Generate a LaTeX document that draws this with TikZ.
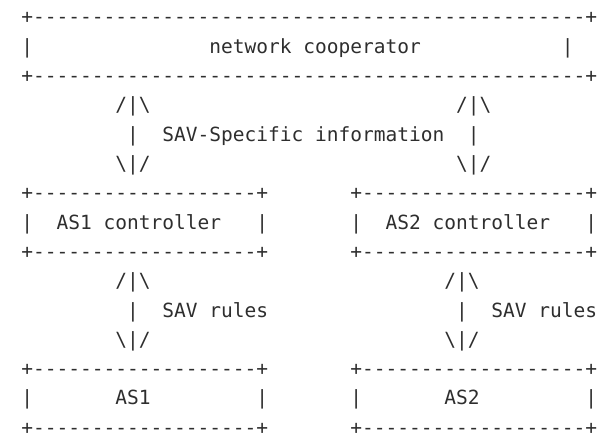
\documentclass[tikz,border=0pt]{standalone}
\usepackage{fontspec}
\setmonofont{DejaVu Sans Mono}
% a run of n hyphens, as in a plain-text frame
\newcommand\hyphenrun[1]{\foreach\k in {1,...,#1}{-}}
\tikzset{
  txt/.style={anchor=base west, inner sep=0pt, outer sep=0pt,
    font=\ttfamily\fontsize{19.52pt}{23pt}\selectfont, text=black!82},
}
\begin{document}
\begin{tikzpicture}[x=11.75pt, y=-29.3pt]
\useasboundingbox (0pt,0pt) rectangle (598pt,-433pt);
\begin{scope}[shift={(21.43pt,-24pt)}]
  % network cooperator frame
  \node[txt] (coopTop) at (0,0) {+\hyphenrun{47}+};
  \node[txt] (coopL)   at (0,1) {|};
  \node[txt] (coop)    at (16,1) {network cooperator};
  \node[txt] (coopR)   at (46,1) {|};
  \node[txt] (coopBot) at (0,2) {+\hyphenrun{47}+};
  % exchange of SAV-specific information
  \node[txt] (upA)   at (8,3) {/|\textbackslash};
  \node[txt] (upB)   at (37,3) {/|\textbackslash};
  \node[txt] (stemA) at (9,4) {|};
  \node[txt] (info)  at (12,4) {SAV-Specific information};
  \node[txt] (stemB) at (38,4) {|};
  \node[txt] (dnA)   at (8,5) {\textbackslash|/};
  \node[txt] (dnB)   at (37,5) {\textbackslash|/};
  % controllers
  \node[txt] (ctlATop) at (0,6) {+\hyphenrun{19}+};
  \node[txt] (ctlBTop) at (28,6) {+\hyphenrun{19}+};
  \node[txt] (ctlAL)   at (0,7) {|};
  \node[txt] (ctlA)    at (3,7) {AS1 controller};
  \node[txt] (ctlAR)   at (20,7) {|};
  \node[txt] (ctlBL)   at (28,7) {|};
  \node[txt] (ctlB)    at (31,7) {AS2 controller};
  \node[txt] (ctlBR)   at (48,7) {|};
  \node[txt] (ctlABot) at (0,8) {+\hyphenrun{19}+};
  \node[txt] (ctlBBot) at (28,8) {+\hyphenrun{19}+};
  % SAV rules pushed down to each AS
  \node[txt] (ruleUpA) at (8,9) {/|\textbackslash};
  \node[txt] (ruleUpB) at (36,9) {/|\textbackslash};
  \node[txt] (ruleStA) at (9,10) {|};
  \node[txt] (rulesA)  at (12,10) {SAV rules};
  \node[txt] (ruleStB) at (37,10) {|};
  \node[txt] (rulesB)  at (40,10) {SAV rules};
  \node[txt] (ruleDnA) at (8,11) {\textbackslash|/};
  \node[txt] (ruleDnB) at (36,11) {\textbackslash|/};
  % autonomous systems
  \node[txt] (asATop) at (0,12) {+\hyphenrun{19}+};
  \node[txt] (asBTop) at (28,12) {+\hyphenrun{19}+};
  \node[txt] (asAL)   at (0,13) {|};
  \node[txt] (asA)    at (8,13) {AS1};
  \node[txt] (asAR)   at (20,13) {|};
  \node[txt] (asBL)   at (28,13) {|};
  \node[txt] (asB)    at (36,13) {AS2};
  \node[txt] (asBR)   at (48,13) {|};
  \node[txt] (asABot) at (0,14) {+\hyphenrun{19}+};
  \node[txt] (asBBot) at (28,14) {+\hyphenrun{19}+};
\end{scope}
\end{tikzpicture}
\end{document}
